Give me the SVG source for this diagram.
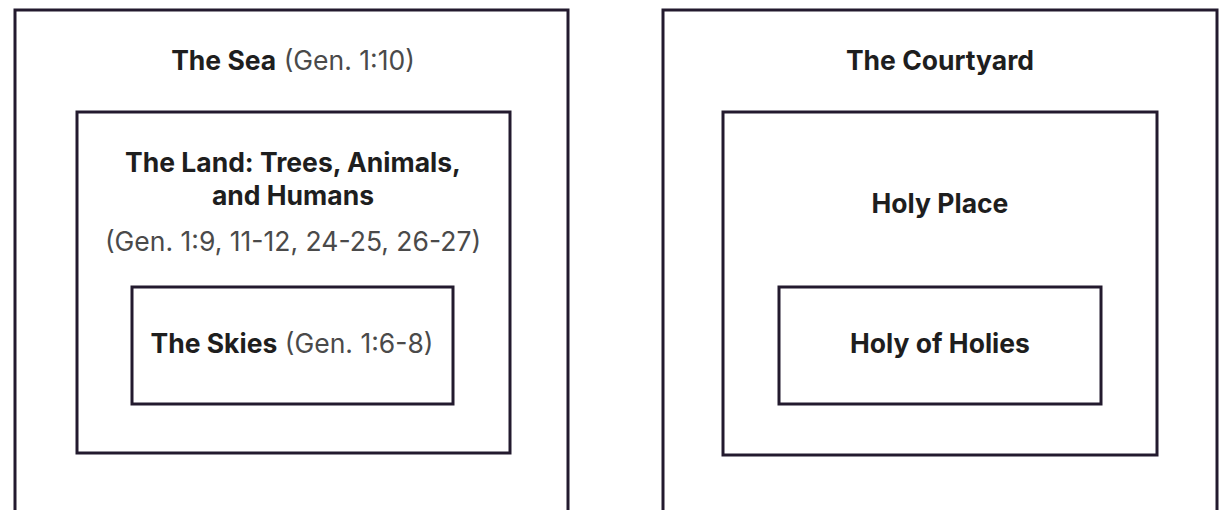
<svg xmlns="http://www.w3.org/2000/svg" width="1228" height="510" viewBox="0 0 1228 510">
<style>
.box{fill:none;stroke:#231a2e;stroke-width:3}
.t{font-family:Inter,"Liberation Sans",sans-serif;font-size:26.5px;text-anchor:middle;fill:#1e1e1e}
.b{font-weight:700}
.r{font-weight:400;fill:#4a4a4a}
</style>
<rect width="1228" height="510" fill="#fff"/>
<g id="sea">
<rect class="box" x="15" y="10" width="553" height="502"/>
<text class="t" x="293" y="70"><tspan class="b">The Sea</tspan> <tspan class="r">(Gen. 1:10)</tspan></text>
</g>
<g id="land">
<rect class="box" x="77" y="112" width="433" height="341"/>
<text class="t b" x="293" y="172">The Land: Trees, Animals,</text>
<text class="t b" x="293" y="205">and Humans</text>
<text class="t r" x="293" y="251">(Gen. 1:9, 11-12, 24-25, 26-27)</text>
</g>
<g id="skies">
<rect class="box" x="132" y="287" width="321" height="117"/>
<text class="t" x="292" y="353"><tspan class="b">The Skies</tspan> <tspan class="r">(Gen. 1:6-8)</tspan></text>
</g>
<g id="courtyard">
<rect class="box" x="663" y="10" width="554" height="502"/>
<text class="t b" x="940" y="70">The Courtyard</text>
</g>
<g id="holyplace">
<rect class="box" x="723" y="112" width="434" height="343"/>
<text class="t b" x="940" y="213">Holy Place</text>
</g>
<g id="holyofholies">
<rect class="box" x="779" y="287" width="322" height="117"/>
<text class="t b" x="940" y="353">Holy of Holies</text>
</g>
<g id="connectors"/>
</svg>
